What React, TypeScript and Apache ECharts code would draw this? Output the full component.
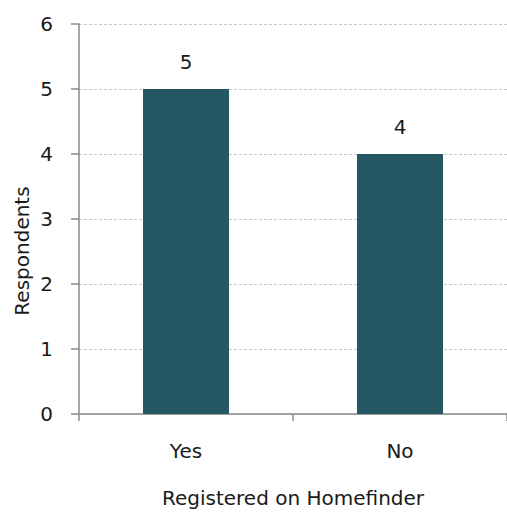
import React, { useEffect, useRef } from "react";
import * as echarts from "echarts";

const categories = ["Yes", "No"];
const respondents = [5, 4];
const yTicks = { min: 0, max: 6, interval: 1 };
const xAxisTitle = "Registered on Homefinder";
const yAxisTitle = "Respondents";

const FONT = "DejaVu Sans";
const TEXT = "#1a1a1a";
const AXIS = "#8a8a8a";

export default function App() {
  const ref = useRef<HTMLDivElement>(null);

  useEffect(() => {
    if (!ref.current) return;
    const chart = echarts.init(ref.current, null, { renderer: "svg" });
    chart.setOption({
      animation: false,
      backgroundColor: "#ffffff",
      textStyle: { fontFamily: FONT },
      grid: { left: 79, top: 24, width: 432, height: 394, containLabel: false },
      xAxis: {
        type: "category",
        data: categories,
        name: xAxisTitle,
        nameLocation: "middle",
        nameGap: 74,
        nameTextStyle: { fontSize: 20, color: TEXT, fontFamily: FONT },
        axisLine: { lineStyle: { color: AXIS, width: 1.5 } },
        axisTick: { show: true, length: 7, lineStyle: { color: AXIS, width: 1.5 } },
        axisLabel: { fontSize: 20, color: TEXT, margin: 27, fontFamily: FONT },
        splitLine: { show: false },
      },
      yAxis: {
        type: "value",
        min: yTicks.min,
        max: yTicks.max,
        interval: yTicks.interval,
        axisLine: { show: true, lineStyle: { color: AXIS, width: 1.5 } },
        axisTick: { show: true, inside: false, length: 8, lineStyle: { color: AXIS, width: 1.5 } },
        axisLabel: { fontSize: 20, color: TEXT, margin: 26, fontFamily: FONT },
        splitLine: { show: true, lineStyle: { color: "#c8c8c8", type: [3, 2], width: 1 } },
      },
      graphic: [
        {
          type: "text",
          x: 22,
          y: 251,
          rotation: Math.PI / 2,
          style: {
            text: yAxisTitle,
            fontSize: 20,
            fontFamily: FONT,
            fill: TEXT,
            align: "center",
            verticalAlign: "middle",
          },
        },
      ],
      series: [
        {
          type: "bar",
          data: respondents,
          barWidth: 86,
          itemStyle: { color: "#235762" },
          label: {
            show: true,
            position: "top",
            distance: 17,
            fontSize: 20,
            color: TEXT,
            fontFamily: FONT,
          },
        },
      ],
    });
    return () => chart.dispose();
  }, []);

  return (
    <div
      ref={ref}
      style={{ position: "fixed", left: 0, top: 0, width: 507, height: 513 }}
    />
  );
}
